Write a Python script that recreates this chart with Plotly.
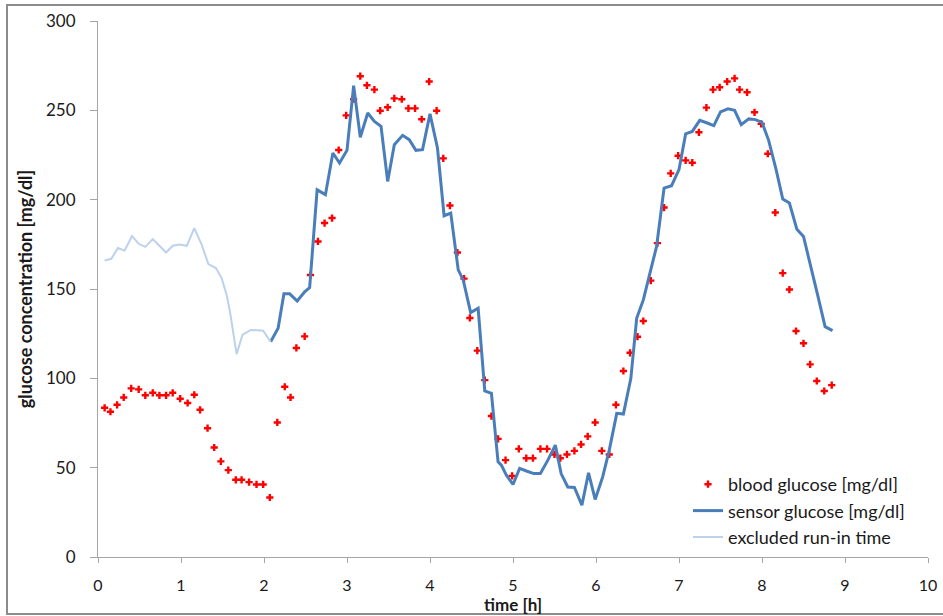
import plotly.graph_objects as go

# Blood glucose reference measurements (time in hours, mg/dl)
bg_time = [0.08, 0.15, 0.23, 0.31, 0.40, 0.49, 0.57, 0.66, 0.74, 0.82, 0.90, 0.99, 1.08, 1.16,
           1.23, 1.32, 1.40, 1.48, 1.57, 1.66, 1.73, 1.82, 1.91, 1.99, 2.07, 2.16, 2.25, 2.32,
           2.39, 2.49, 2.56, 2.65, 2.73, 2.82, 2.90, 2.99, 3.08, 3.16, 3.24, 3.33, 3.40, 3.49,
           3.57, 3.66, 3.74, 3.82, 3.90, 3.99, 4.08, 4.16, 4.24, 4.33, 4.41, 4.48, 4.57, 4.66,
           4.74, 4.82, 4.91, 4.99, 5.07, 5.16, 5.24, 5.33, 5.41, 5.50, 5.57, 5.65, 5.74, 5.82,
           5.90, 5.99, 6.07, 6.16, 6.24, 6.33, 6.41, 6.50, 6.57, 6.66, 6.74, 6.82, 6.90, 6.99,
           7.08, 7.16, 7.24, 7.33, 7.41, 7.49, 7.58, 7.67, 7.73, 7.82, 7.91, 7.99, 8.07, 8.16,
           8.25, 8.33, 8.41, 8.50, 8.58, 8.66, 8.75, 8.84]
bg_value = [83.5, 81.3, 85.2, 89.3, 94.4, 93.8, 90.5, 91.9, 90.5, 90.5, 91.9, 88.6, 86.2, 90.8,
            82.4, 72.1, 61.3, 53.5, 48.6, 43.2, 43.2, 41.9, 40.6, 40.6, 33.3, 75.3, 95.3, 89.3,
            117, 123.5, 157.8, 176.6, 186.9, 189.7, 227.8, 247.2, 256.2, 269.1, 264.0, 261.6,
            249.8, 251.7, 256.7, 256.2, 251.1, 251.1, 245.0, 266.1, 249.8, 223.1, 196.7, 170.4,
            155.8, 133.8, 115.5, 99.0, 78.9, 66.1, 54.2, 45.4, 60.5, 55.3, 55.3, 60.5, 60.5,
            57.4, 55.3, 57.4, 59.4, 63.0, 67.5, 75.3, 59.4, 57.4, 85.2, 104.1, 114.3, 123.3,
            132.1, 154.7, 175.7, 195.6, 214.7, 224.6, 222.0, 220.7, 237.7, 251.5, 261.6, 262.9,
            266.1, 267.9, 261.6, 260.1, 248.9, 242.4, 225.7, 192.8, 158.9, 149.7, 126.5, 119.6,
            107.8, 98.5, 92.9, 96.2]

# Continuous sensor signal after the run-in phase
sensor_time = [2.08, 2.17, 2.24, 2.31, 2.40, 2.49, 2.55, 2.64, 2.74, 2.83, 2.91, 3.00, 3.08,
               3.16, 3.25, 3.33, 3.41, 3.49, 3.57, 3.67, 3.75, 3.83, 3.91, 4.00, 4.09, 4.17,
               4.25, 4.34, 4.40, 4.49, 4.58, 4.66, 4.74, 4.82, 4.86, 4.92, 5.00, 5.08, 5.17,
               5.25, 5.33, 5.42, 5.51, 5.58, 5.66, 5.74, 5.83, 5.91, 5.99, 6.08, 6.16, 6.25,
               6.33, 6.42, 6.49, 6.57, 6.65, 6.73, 6.82, 6.91, 7.00, 7.08, 7.16, 7.25, 7.34,
               7.42, 7.50, 7.59, 7.67, 7.75, 7.84, 7.92, 8.00, 8.08, 8.17, 8.25, 8.33, 8.42,
               8.50, 8.58, 8.67, 8.76, 8.85]
sensor_value = [120.5, 128, 147.3, 147.3, 143.3, 148.4, 150.8, 205.5, 202.8, 226.1, 220.5,
                227.6, 263.8, 234.9, 248.5, 243.8, 241.0, 210.2, 230.8, 236.0, 233.6, 227.6,
                228.0, 248.0, 228.9, 191.0, 192.5, 160.7, 155.1, 136.8, 139.2, 92.9, 91.6,
                53.3, 51.4, 45.8, 40.6, 49.6, 48.0, 46.7, 46.7, 54.2, 62.6, 46.7, 39.2, 38.9,
                29.0, 47.1, 32.2, 44.8, 59.8, 80.4, 80.0, 100, 133.6, 143.9, 158.9, 173.8,
                206.5, 207.8, 216.8, 236.8, 238.2, 244.4, 242.9, 241.4, 249.1, 250.8, 250.0,
                242.0, 245.2, 244.8, 243.3, 233.2, 216.8, 200.3, 198.1, 183.5, 179.4, 164.5,
                146.7, 128.9, 126.7]

# Sensor signal during the excluded run-in phase
runin_time = [0.08, 0.16, 0.24, 0.32, 0.41, 0.49, 0.57, 0.66, 0.74, 0.82, 0.90, 0.98, 1.07,
              1.16, 1.25, 1.33, 1.42, 1.49, 1.55, 1.59, 1.67, 1.74, 1.84, 1.99, 2.08]
runin_value = [165.9, 166.9, 172.9, 171.5, 179.6, 175.3, 173.6, 177.9, 174.2, 170.4, 174.2,
               174.9, 174.2, 184.1, 174.7, 163.9, 161.7, 156.1, 146.7, 137.3, 113.5, 124.3,
               127.1, 126.7, 120.5]

FONT = "Lato"
AXIS_GRAY = "#a6a6a6"
TEXT = "#1a1a1a"

fig = go.Figure()

fig.add_trace(go.Scatter(
    x=bg_time, y=bg_value, mode="markers", name="blood glucose [mg/dl]",
    marker=dict(symbol="cross", size=6, color="#ff0000", line=dict(width=0)),
))
fig.add_trace(go.Scatter(
    x=sensor_time, y=sensor_value, mode="lines", name="sensor glucose [mg/dl]",
    line=dict(color="#4a7ebb", width=3),
))
fig.add_trace(go.Scatter(
    x=runin_time, y=runin_value, mode="lines", name="excluded run-in time",
    line=dict(color="#bcd1ec", width=2),
))

# Outer chart frame
fig.add_shape(type="rect", xref="paper", yref="paper",
              x0=(7 - 98) / 830, x1=(950 - 98) / 830,
              y0=(557 - 614) / 536, y1=(557 - 5) / 536,
              line=dict(color="#8c8c8c", width=2), fillcolor="rgba(0,0,0,0)", layer="below")

# x-axis title placed just below the tick labels
fig.add_annotation(text="<b>time [h]</b>", xref="paper", yref="paper",
                   x=0.5, y=(557 - 604) / 536, xanchor="center", yanchor="middle",
                   showarrow=False, font=dict(family=FONT, size=17, color=TEXT))

fig.update_layout(
    width=943, height=616,
    margin=dict(l=98, r=15, t=21, b=59, autoexpand=False),
    paper_bgcolor="white", plot_bgcolor="white",
    font=dict(family=FONT, size=17, color=TEXT),
    showlegend=True,
    legend=dict(x=(688 - 98) / 830, y=(557 - 466) / 536, xanchor="left", yanchor="top",
                bgcolor="rgba(0,0,0,0)", font=dict(family=FONT, size=18, color=TEXT),
                itemwidth=30, tracegroupgap=0),
    xaxis=dict(range=[0, 10], dtick=1, showgrid=False, zeroline=False, automargin=False,
               showline=True, linecolor=AXIS_GRAY, linewidth=1,
               ticks="outside", ticklen=5, tickcolor=AXIS_GRAY, ticklabelstandoff=9,
               tickfont=dict(family=FONT, size=16, color=TEXT)),
    yaxis=dict(range=[0, 300], dtick=50, showgrid=False, zeroline=False, automargin=False,
               showline=True, linecolor=AXIS_GRAY, linewidth=1,
               ticks="outside", ticklen=7, tickcolor=AXIS_GRAY, ticklabelstandoff=11,
               tickfont=dict(family=FONT, size=17, color=TEXT),
               title=dict(text="<b>glucose concentration [mg/dl]</b>",
                          font=dict(family=FONT, size=18, color=TEXT), standoff=8)),
)

fig.write_html("out.html")
